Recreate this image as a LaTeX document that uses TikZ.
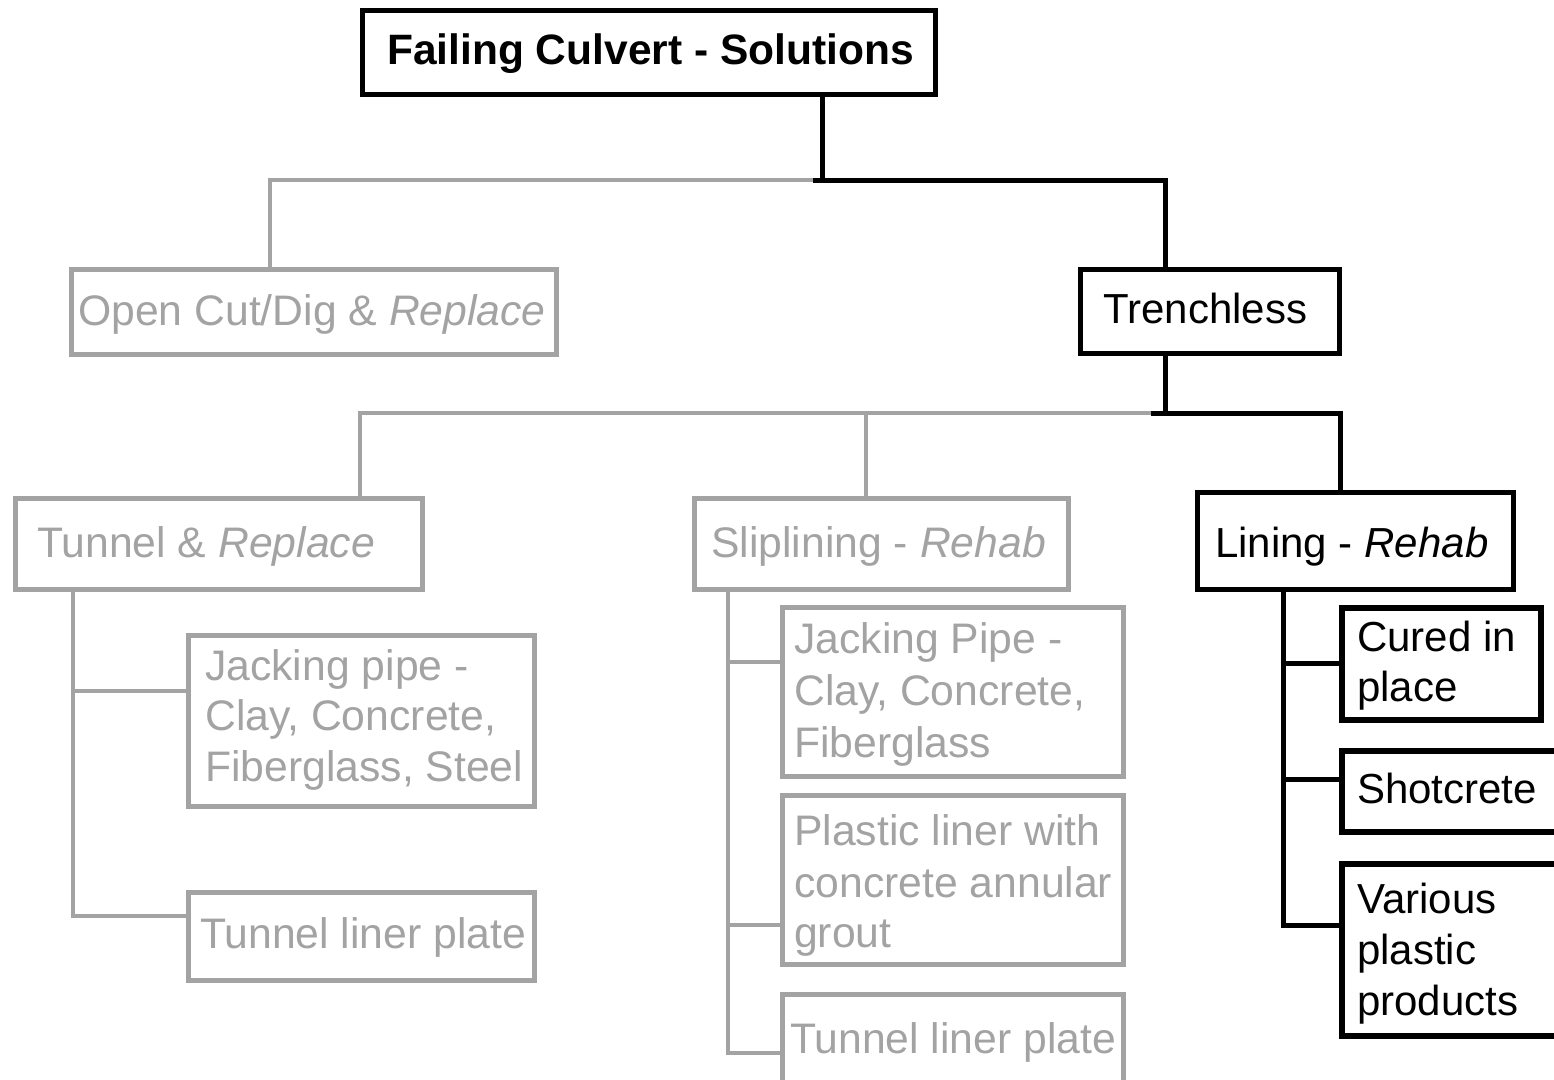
\documentclass[tikz,border=0pt]{standalone}
\usepackage{fontspec}
\setmainfont{Liberation Sans}
\definecolor{gc}{RGB}{163,163,163}
\begin{document}
\begin{tikzpicture}[x=1pt,y=-1pt,
  gbox/.style={draw=gc, line width=5pt, inner sep=0pt, fill=white},
  bbox/.style={draw=black, line width=5.5pt, inner sep=0pt, fill=white},
  gline/.style={draw=gc, line width=4.5pt, line join=miter},
  bline/.style={draw=black, line width=5pt, line join=miter},
  gtxt/.style={text=gc, font=\fontsize{42.7}{50}\selectfont, anchor=base west, inner sep=0pt},
  btxt/.style={text=black, font=\fontsize{42}{50}\selectfont, anchor=base west, inner sep=0pt},
  ttxt/.style={text=black, font=\fontsize{42.5}{50}\selectfont\bfseries, anchor=base west, inner sep=0pt}
]
\useasboundingbox (0,0) rectangle (1554,1079);
\clip (0,0) rectangle (1554,1079);

% junction coordinates
\coordinate (c1) at (822,180);
\coordinate (c1l) at (813,180);
\coordinate (c2) at (1165,180);
\coordinate (c3) at (270,180);
\coordinate (c4) at (1165,413);
\coordinate (c4l) at (1151,413);
\coordinate (c5) at (1340,413);
\coordinate (c6) at (360,413);
\coordinate (c7) at (866,413);
\coordinate (ta) at (73,916);
\coordinate (tb) at (73,691);
\coordinate (sa) at (728,1053);
\coordinate (sb) at (728,662);
\coordinate (sc) at (728,925);
\coordinate (la) at (1283,925);
\coordinate (lb) at (1283,663);
\coordinate (lc) at (1283,779);

% boxes
\node[bbox, minimum width=573pt, minimum height=84pt] (title) at (649,52.5) {};
\node[gbox, minimum width=485pt, minimum height=85pt] (oc) at (313.5,311.5) {};
\node[bbox, minimum width=259pt, minimum height=84pt] (tr) at (1210,311.5) {};
\node[gbox, minimum width=407pt, minimum height=91pt] (tun) at (218.5,543.5) {};
\node[gbox, minimum width=374pt, minimum height=91pt] (sl) at (881,543.5) {};
\node[bbox, minimum width=316pt, minimum height=97pt] (li) at (1355.5,541) {};
\node[gbox, minimum width=346pt, minimum height=171pt] (jp) at (361,720.5) {};
\node[gbox, minimum width=346pt, minimum height=88pt] (tl1) at (361,936) {};
\node[gbox, minimum width=341pt, minimum height=169pt] (jp2) at (952.5,691.5) {};
\node[gbox, minimum width=341pt, minimum height=169pt] (pl) at (952.5,879.5) {};
\node[gbox, minimum width=341pt, minimum height=89pt] (tl2) at (952.5,1038.5) {};
\node[bbox, minimum width=199pt, minimum height=112pt] (cu) at (1441.5,664) {};
\node[bbox, minimum width=236pt, minimum height=81pt] (sh) at (1460,791.5) {};
\node[bbox, minimum width=236pt, minimum height=172pt] (va) at (1460,950) {};

% connectors
\draw[gline] (oc.north -| c3) -- (c3) -- (c1l);
\draw[bline] (title.south -| c1) -- (c1);
\draw[bline] (c1l) -- (c2) -- (tr.north -| c2);
\draw[gline] (tun.north -| c6) -- (c6) -- (c4l);
\draw[gline] (sl.north -| c7) -- (c7);
\draw[bline] (tr.south -| c4) -- (c4);
\draw[bline] (c4l) -- (c5) -- (li.north -| c5);

\draw[gline] (tun.south -| ta) -- (ta) -- (ta -| tl1.west);
\draw[gline] (tb) -- (tb -| jp.west);

\draw[gline] (sl.south -| sa) -- (sa) -- (sa -| tl2.west);
\draw[gline] (sb) -- (sb -| jp2.west);
\draw[gline] (sc) -- (sc -| pl.west);

\draw[bline] (li.south -| la) -- (la) -- (la -| va.west);
\draw[bline] (lb) -- (lb -| cu.west);
\draw[bline] (lc) -- (lc -| sh.west);

% texts
\node[ttxt] (titlet) at (387,64) {Failing Culvert - Solutions};
\node[gtxt] (oct) at (78,325) {Open Cut/Dig \& \textit{Replace}};
\node[btxt] (trt) at (1103,323) {Trenchless};
\node[gtxt] (tunt) at (37,557) {Tunnel \& \textit{Replace}};
\node[gtxt] (slt) at (711,557) {Sliplining - \textit{Rehab}};
\node[btxt] (lit) at (1215,557) {Lining - \textit{Rehab}};
\node[gtxt] (jpa) at (205,680) {Jacking pipe -};
\node[gtxt] (jpb) at (205,730) {Clay, Concrete,};
\node[gtxt] (jpc) at (205,781) {Fiberglass, Steel};
\node[gtxt] (tl1t) at (200,948) {Tunnel liner plate};
\node[gtxt] (jp2a) at (794,653) {Jacking Pipe -};
\node[gtxt] (jp2b) at (794,705) {Clay, Concrete,};
\node[gtxt] (jp2c) at (794,757) {Fiberglass};
\node[gtxt] (pla) at (794,845) {Plastic liner with};
\node[gtxt] (plb) at (794,897) {concrete annular};
\node[gtxt] (plc) at (794,947) {grout};
\node[gtxt] (tl2t) at (790,1053) {Tunnel liner plate};
\node[btxt] (cua) at (1357,651) {Cured in};
\node[btxt] (cub) at (1357,701) {place};
\node[btxt] (sht) at (1357,803) {Shotcrete};
\node[btxt] (vaa) at (1357,913) {Various};
\node[btxt] (vab) at (1357,964) {plastic};
\node[btxt] (vac) at (1357,1015) {products};
\end{tikzpicture}
\end{document}
